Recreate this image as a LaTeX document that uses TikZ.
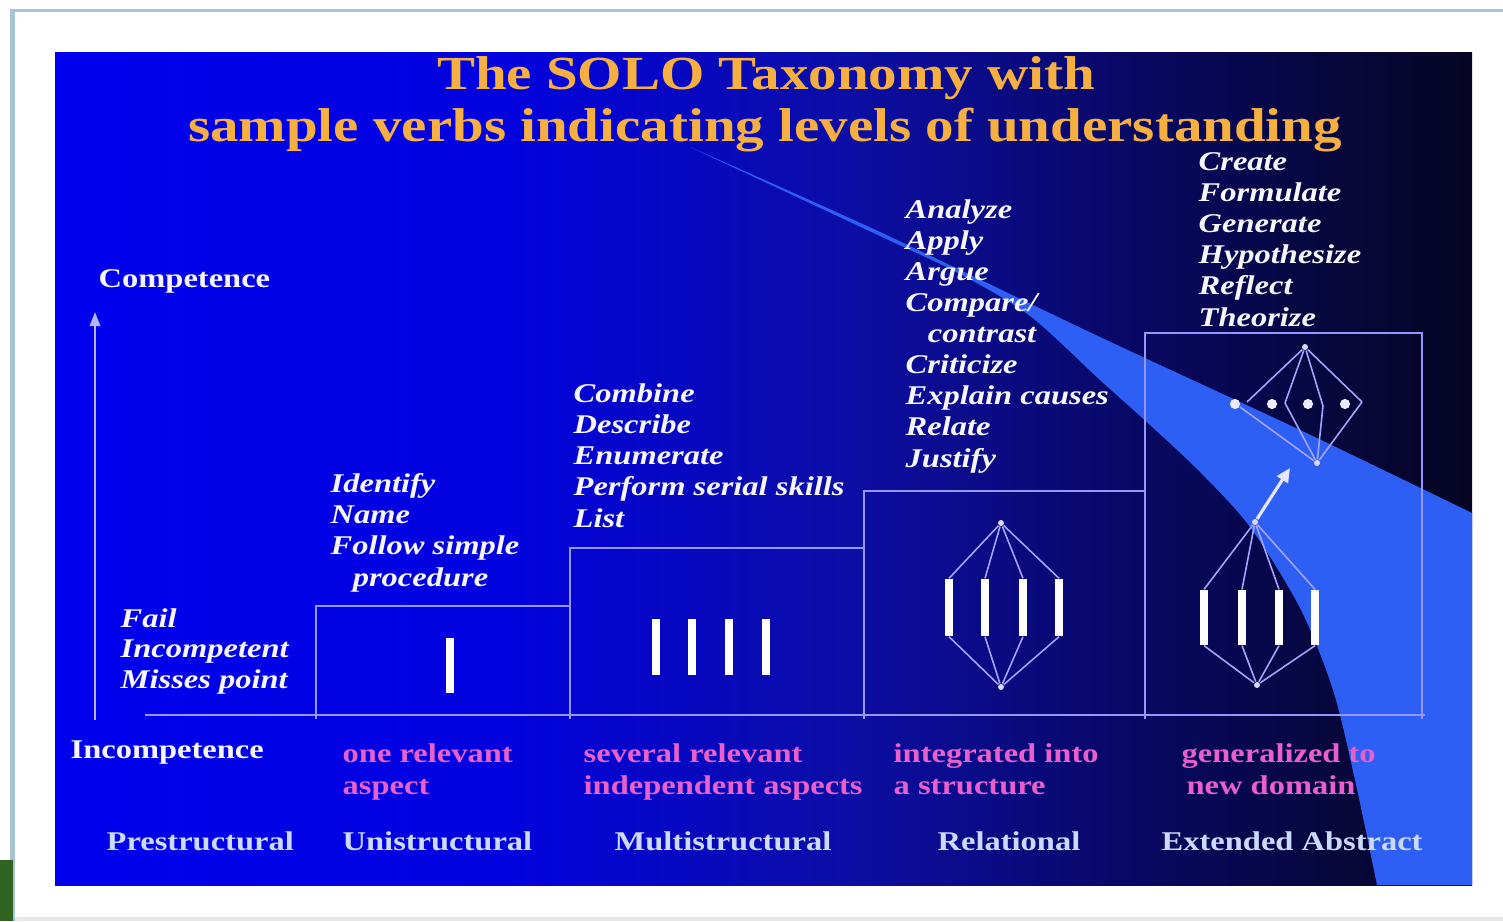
\documentclass[tikz,border=0pt]{standalone}
\usepackage{fontspec}
\setmainfont[FakeStretch=1.2]{Liberation Serif}
\usetikzlibrary{arrows.meta}
\definecolor{slideA}{RGB}{0,0,238}
\definecolor{slideB}{RGB}{2,2,222}
\definecolor{slideC}{RGB}{12,14,165}
\definecolor{slideD}{RGB}{8,8,100}
\definecolor{slideE}{RGB}{6,6,34}
\definecolor{bandcol}{RGB}{45,95,245}
\definecolor{framecol}{RGB}{168,196,210}
\definecolor{greencol}{RGB}{48,98,32}
\definecolor{titlegold}{RGB}{246,176,66}
\definecolor{txtwhite}{RGB}{246,246,252}
\definecolor{pinktxt}{RGB}{232,96,206}
\definecolor{leveltxt}{RGB}{205,218,255}
\definecolor{boxcol}{RGB}{150,150,255}
\definecolor{linkcol}{RGB}{165,165,255}
\pgfdeclarehorizontalshading{slidebg}{100bp}{color(0bp)=(slideA); color(25bp)=(slideA); color(41bp)=(slideB); color(53bp)=(slideC); color(63bp)=(slideD); color(75bp)=(slideE); color(100bp)=(slideE)}
\begin{document}
\begin{tikzpicture}[x=0.01cm, y=-0.01cm,
  titletext/.style={anchor=base, inner sep=0pt, text=titlegold, font=\fontsize{13.5}{15}\selectfont\bfseries},
  verb/.style={anchor=base west, align=left, inner sep=0pt, text=txtwhite, font=\fontsize{7.7}{8.82}\selectfont\bfseries\itshape},
  axislabel/.style={anchor=base west, inner sep=0pt, text=txtwhite, font=\fontsize{7.7}{8.82}\selectfont\bfseries},
  aspect/.style={anchor=base west, align=left, inner sep=0pt, text=pinktxt, font=\fontsize{7.7}{8.82}\selectfont\bfseries},
  level/.style={anchor=base west, inner sep=0pt, text=leveltxt, font=\fontsize{7.7}{8.82}\selectfont\bfseries},
  boxline/.style={draw=boxcol, line width=0.6pt},
  axisline/.style={draw=boxcol!70!white, line width=0.6pt},
  vbar/.style={fill=white, draw=none, inner sep=0pt, minimum width=2.4pt, minimum height=#1},
  link/.style={draw=linkcol, line width=0.45pt},
  apex/.style={circle, fill=white!85!blue, draw=none, inner sep=0pt, minimum size=1.7pt},
  dotnode/.style={circle, fill=white!92!blue, draw=none, inner sep=0pt, minimum size=2.9pt},
  growarrow/.style={draw=white!90!blue, line width=0.9pt, -{Triangle[length=4pt,width=3.6pt]}}
]
\useasboundingbox (0,0) rectangle (1503,921);
% page and frame
\fill[white] (0,0) rectangle (1503,921);
\fill[framecol] (10,9) rectangle (1503,12);
\fill[framecol] (10,9) rectangle (15,921);
\fill[gray!18] (15,917) rectangle (1503,921);
\fill[greencol] (0,860) rectangle (13,921);
% slide background
\shade[shading=slidebg] (55,52) rectangle (1472,885);
% light band
\fill[bandcol] plot[smooth,tension=0.5] coordinates {(690,147) (880,232) (1100,337) (1300,430) (1472,513)}
  -- (1472,885)
  -- plot[smooth,tension=0.5] coordinates {(1377,885) (1355,780) (1333,690) (1300,608) (1250,527) (1200,472) (1150,425) (1100,380) (1030,316) (960,274) (880,236) (690,147)}
  -- cycle;
% title
\node[titletext] (t1) at (766,90) {The SOLO Taxonomy with};
\node[titletext] (t2) at (765,141) {sample verbs indicating levels of understanding};
% axis
\node[axislabel] (comp) at (98,287) {Competence};
\node[axislabel] (incomp) at (70,758) {Incompetence};
\coordinate (axbot) at (95,720);
\coordinate (axtop) at (95,312);
\draw[axisline, -{Triangle[length=4pt,width=3pt]}] (axbot) -- (axtop);
\coordinate (bl) at (145,715);
\coordinate (br) at (1425,715);
\draw[boxline] (bl) -- (br);
% steps
\draw[boxline] (316,719) |- (570,606);
\draw[boxline] (570,719) |- (864,548);
\draw[boxline] (864,719) |- (1145,491);
\draw[boxline] (1145,719) |- (1422,333) -- (1422,719);
% unistructural
\node[vbar=15.6pt] (u1) at (450,665.5) {};
% multistructural
\node[vbar=15.9pt] (m1) at (656,647) {};
\node[vbar=15.9pt] (m2) at (692,647) {};
\node[vbar=15.9pt] (m3) at (729,647) {};
\node[vbar=15.9pt] (m4) at (766,647) {};
% relational
\node[vbar=16.2pt] (r1) at (949,607.5) {};
\node[vbar=16.2pt] (r2) at (985,607.5) {};
\node[vbar=16.2pt] (r3) at (1023,607.5) {};
\node[vbar=16.2pt] (r4) at (1059,607.5) {};
\node[apex] (rt) at (1001,523) {};
\node[apex] (rb) at (1001,687) {};
\foreach \b in {r1,r2,r3,r4} {
  \draw[link] (rt) -- (\b.north);
  \draw[link] (rb) -- (\b.south);
}
% extended abstract
\node[vbar=15.6pt] (e1) at (1204,617.5) {};
\node[vbar=15.6pt] (e2) at (1242,617.5) {};
\node[vbar=15.6pt] (e3) at (1279,617.5) {};
\node[vbar=15.6pt] (e4) at (1315,617.5) {};
\node[apex] (et) at (1255,522) {};
\node[apex] (eb) at (1257,685) {};
\foreach \b in {e1,e2,e3,e4} {
  \draw[link] (et) -- (\b.north);
  \draw[link] (eb) -- (\b.south);
}
\coordinate (gb) at (1290,468);
\draw[growarrow] (et) -- (gb);
\node[apex] (ut) at (1305,347) {};
\node[apex] (ub) at (1317,463) {};
\coordinate (v0) at (1240,407);
\coordinate (v1) at (1247,402);
\coordinate (v2) at (1285,403);
\coordinate (v3) at (1323,406);
\coordinate (v4) at (1362,402);
\foreach \v in {v1,v2,v3,v4} \draw[link] (ut) -- (\v);
\foreach \v in {v0,v2,v3,v4} \draw[link] (ub) -- (\v);
\node[dotnode] (d1) at (1235,404) {};
\node[dotnode] (d2) at (1272,404) {};
\node[dotnode] (d3) at (1308,404) {};
\node[dotnode] (d4) at (1345,404) {};
% verbs (base anchor = baseline of the last line)
\node[verb, font=\fontsize{7.7}{8.54}\selectfont\bfseries\itshape] (vpre) at (120,688) {Fail\\Incompetent\\Misses point};
\node[verb] (vuni) at (330,586) {Identify\\Name\\Follow simple\\\hspace*{6.3pt}procedure};
\node[verb] (vmul) at (573,527) {Combine\\Describe\\Enumerate\\Perform serial skills\\List};
\node[verb] (vrel) at (905,467) {Analyze\\Apply\\Argue\\Compare/\\\hspace*{6.3pt}contrast\\Criticize\\Explain causes\\Relate\\Justify};
\node[verb] (vext) at (1198,326) {Create\\Formulate\\Generate\\Hypothesize\\Reflect\\Theorize};
% aspects
\node[aspect] (auni) at (342,794) {one relevant\\aspect};
\node[aspect] (amul) at (583,794) {several relevant\\independent aspects};
\node[aspect] (arel) at (893,794) {integrated into\\a structure};
\node[aspect] (aext) at (1181,794) {generalized to\\\hspace*{1.4pt}new domain};
% level names
\node[level] (lpre) at (106,850) {Prestructural};
\node[level] (luni) at (342,850) {Unistructural};
\node[level] (lmul) at (614,850) {Multistructural};
\node[level] (lrel) at (937,850) {Relational};
\node[level] (lext) at (1161,850) {Extended Abstract};
\end{tikzpicture}
\end{document}
